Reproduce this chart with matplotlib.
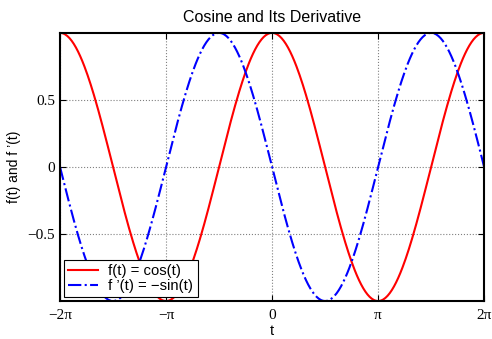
import numpy as np
import matplotlib
matplotlib.use("Agg")
import matplotlib.pyplot as plt

# the curves are the functions named in the legend
t = np.linspace(-2 * np.pi, 2 * np.pi, 401)
f = np.cos(t)
df = -np.sin(t)

xticks = [-2 * np.pi, -np.pi, 0, np.pi, 2 * np.pi]
xticklabels = ["\u22122\u03c0", "\u2212\u03c0", "0", "\u03c0", "2\u03c0"]
yticks = [-0.5, 0, 0.5]
yticklabels = ["\u22120.5", "0", "0.5"]

plt.rcParams["font.family"] = ["Liberation Sans", "DejaVu Sans"]
serif = ["Liberation Serif", "DejaVu Serif"]

fig = plt.figure(figsize=(4.92, 3.39), dpi=100)
ax = fig.add_axes([0.122, 0.112, 0.862, 0.791])

ax.plot(t, f, color="#ff0000", lw=1.5, label="f(t) = cos(t)")
ax.plot(t, df, color="#0000ff", lw=1.5, ls="-.", label="f \u2019(t) = \u2212sin(t)")

ax.set_xlim(-2 * np.pi, 2 * np.pi)
ax.set_ylim(-1, 1)
ax.set_xticks(xticks)
ax.set_xticklabels(xticklabels, family=serif, fontsize=11)
ax.set_yticks(yticks)
ax.set_yticklabels(yticklabels, family=serif, fontsize=11)
ax.tick_params(direction="in", length=4, width=0.8, top=True, right=True)
ax.tick_params(axis="x", pad=6)
ax.tick_params(axis="y", pad=3.5)
ax.grid(True, color="#808080", ls=":", lw=0.8)
for s in ax.spines.values():
    s.set_linewidth(1.5)

ax.set_title("Cosine and Its Derivative", fontsize=11.5, pad=8)
ax.set_xlabel("t", fontsize=10.5, labelpad=1)
ax.set_ylabel("f(t) and f \u2019(t)", fontsize=10, labelpad=5)

leg = ax.legend(loc="lower left", fontsize=10.7, frameon=True, fancybox=False,
                borderaxespad=0.25, handlelength=2.0, borderpad=0.3,
                labelspacing=0.05, handletextpad=0.7)
leg.get_frame().set_edgecolor("black")
leg.get_frame().set_linewidth(0.8)
leg.get_frame().set_alpha(1)

fig.savefig("out.png", dpi=100)
